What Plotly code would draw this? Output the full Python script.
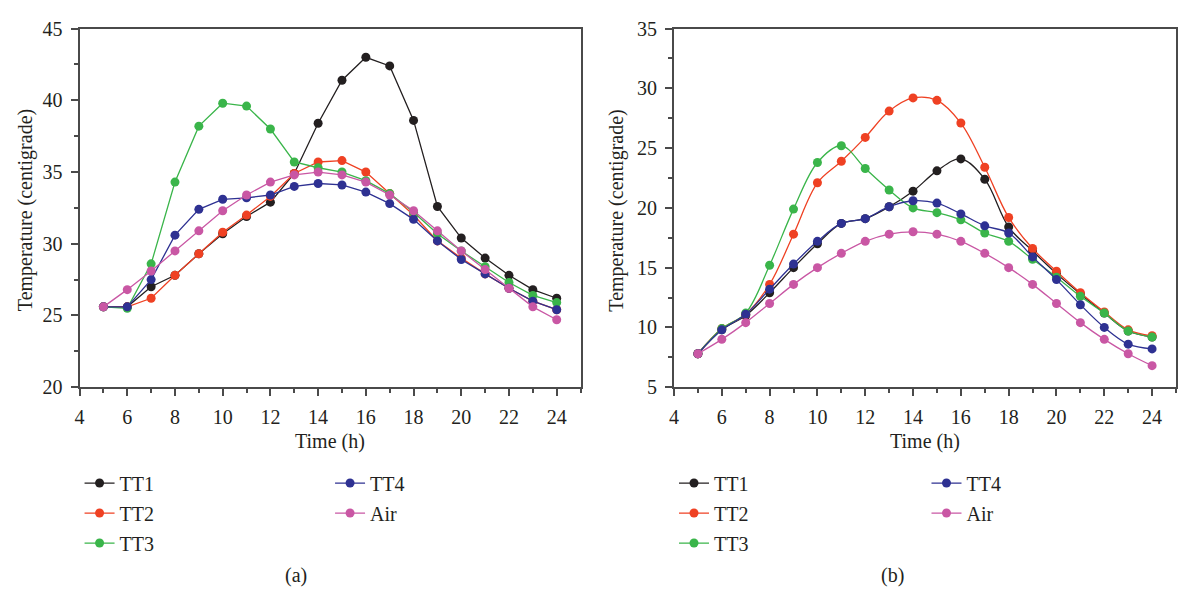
import plotly.graph_objects as go

# ---------------- data ----------------
hours = list(range(5, 25))
series_names = ["TT1", "TT2", "TT3", "TT4", "Air"]

# panel (a)
tt1_a = [25.6, 25.6, 27.0, 27.8, 29.3, 30.7, 31.9, 32.9, 34.9, 38.4, 41.4, 43.0, 42.4, 38.6, 32.6, 30.4, 29.0, 27.8, 26.8, 26.2]
tt2_a = [25.6, 25.6, 26.2, 27.8, 29.3, 30.8, 32.0, 33.3, 34.9, 35.7, 35.8, 35.0, 33.5, 32.0, 30.2, 29.0, 27.9, 26.9, 26.0, 25.4]
tt3_a = [25.6, 25.5, 28.6, 34.3, 38.2, 39.8, 39.6, 38.0, 35.7, 35.3, 35.0, 34.4, 33.5, 32.2, 30.7, 29.5, 28.4, 27.3, 26.4, 25.9]
tt4_a = [25.6, 25.6, 27.5, 30.6, 32.4, 33.1, 33.2, 33.4, 34.0, 34.2, 34.1, 33.6, 32.8, 31.7, 30.2, 28.9, 27.9, 26.9, 26.0, 25.4]
air_a = [25.6, 26.8, 28.1, 29.5, 30.9, 32.3, 33.4, 34.3, 34.8, 35.0, 34.8, 34.3, 33.4, 32.3, 30.9, 29.5, 28.2, 26.9, 25.6, 24.7]

# panel (b)
tt1_b = [7.8, 9.8, 11.0, 12.9, 15.0, 17.0, 18.7, 19.1, 20.1, 21.4, 23.1, 24.1, 22.4, 18.4, 16.4, 14.5, 12.8, 11.2, 9.7, 9.2]
tt2_b = [7.8, 9.9, 11.1, 13.6, 17.8, 22.1, 23.9, 25.9, 28.1, 29.2, 29.0, 27.1, 23.4, 19.2, 16.6, 14.7, 12.9, 11.3, 9.8, 9.3]
tt3_b = [7.8, 9.9, 11.2, 15.2, 19.9, 23.8, 25.2, 23.3, 21.5, 20.0, 19.6, 19.0, 17.9, 17.2, 15.7, 14.2, 12.6, 11.2, 9.7, 9.2]
tt4_b = [7.8, 9.8, 11.1, 13.2, 15.3, 17.2, 18.7, 19.1, 20.1, 20.6, 20.4, 19.5, 18.5, 17.9, 15.9, 14.0, 11.9, 10.0, 8.6, 8.2]
air_b = [7.8, 9.0, 10.4, 12.0, 13.6, 15.0, 16.2, 17.2, 17.8, 18.0, 17.8, 17.2, 16.2, 15.0, 13.6, 12.0, 10.4, 9.0, 7.8, 6.8]

x_ticks = [4, 6, 8, 10, 12, 14, 16, 18, 20, 22, 24]
y_ticks_a = [20, 25, 30, 35, 40, 45]
y_ticks_b = [5, 10, 15, 20, 25, 30, 35]

colors = ["#231F20", "#EF4123", "#3AB54A", "#2E3192", "#C957A4"]

FONT = "Liberation Serif"
FS = 20
TXT = "#231F20"
AX = "#4A4A4A"
W, H = 1178, 592

fig = go.Figure()

panel_a = [tt1_a, tt2_a, tt3_a, tt4_a, air_a]
panel_b = [tt1_b, tt2_b, tt3_b, tt4_b, air_b]

for i, (name, vals) in enumerate(zip(series_names, panel_a)):
    fig.add_trace(go.Scatter(
        x=hours, y=vals, mode="lines+markers", name=name,
        line=dict(color=colors[i], width=1.3),
        marker=dict(size=9, color=colors[i]),
        xaxis="x", yaxis="y",
        legend="legend" if i < 3 else "legend2",
        legendgroup="a%d" % i,
    ))

for i, (name, vals) in enumerate(zip(series_names, panel_b)):
    fig.add_trace(go.Scatter(
        x=hours, y=vals, mode="lines+markers", name=name,
        line=dict(color=colors[i], width=1.3, shape="spline", smoothing=1.0),
        marker=dict(size=9, color=colors[i]),
        xaxis="x2", yaxis="y2",
        legend="legend3" if i < 3 else "legend4",
        legendgroup="b%d" % i,
    ))

tickfont = dict(family=FONT, size=FS, color=TXT)
common = dict(
    showline=True, linecolor=AX, linewidth=2, mirror=True,
    showgrid=False, zeroline=False,
    ticks="outside", ticklen=7, tickwidth=1.5, tickcolor=AX,
    tickfont=tickfont, ticklabelstandoff=4,
)

ydom = [1 - 390.7 / H, 1 - 18.3 / H]

fig.update_layout(
    width=W, height=H, autosize=False,
    margin=dict(l=0, r=0, t=0, b=0),
    paper_bgcolor="white", plot_bgcolor="white",
    font=dict(family=FONT, color=TXT),
    xaxis=dict(domain=[75 / W, 579 / W], range=[4, 25], tickvals=x_ticks, anchor="y",
               minor=dict(dtick=1, tick0=4, ticks="outside", ticklen=4, tickwidth=1.5, tickcolor=AX),
               **common),
    yaxis=dict(domain=ydom, range=[20, 45], tickvals=y_ticks_a, anchor="x",
               minor=dict(dtick=2.5, tick0=20, ticks="outside", ticklen=4, tickwidth=1.5, tickcolor=AX),
               **common),
    xaxis2=dict(domain=[673 / W, 1.0], range=[4, 25], tickvals=x_ticks, anchor="y2",
                minor=dict(dtick=1, tick0=4, ticks="outside", ticklen=4, tickwidth=1.5, tickcolor=AX),
                **common),
    yaxis2=dict(domain=ydom, range=[5, 35], tickvals=y_ticks_b, anchor="x2",
                minor=dict(dtick=2.5, tick0=5, ticks="outside", ticklen=4, tickwidth=1.5, tickcolor=AX),
                **common),
)

leg_common = dict(xanchor="left", yanchor="top", bgcolor="rgba(0,0,0,0)",
                  font=dict(family=FONT, size=FS, color=TXT), tracegroupgap=1,
                  orientation="v", itemwidth=30)
fig.update_layout(
    legend=dict(x=75 / W, y=1 - 470 / H, **leg_common),
    legend2=dict(x=327 / W, y=1 - 470 / H, **leg_common),
    legend3=dict(x=673 / W, y=1 - 470 / H, **leg_common),
    legend4=dict(x=927 / W, y=1 - 470 / H, **leg_common),
)

ann = []
for cx in (327, 925):
    ann.append(dict(text="Time (h)", x=cx / W, y=1 - 447 / H, xref="paper", yref="paper",
                    xanchor="center", yanchor="middle",
                    showarrow=False, font=dict(family=FONT, size=FS, color=TXT)))
for cx in (20, 615):
    ann.append(dict(text="Temperature (centigrade)", x=cx / W, y=1 - 207 / H, xref="paper", yref="paper",
                    xanchor="center", yanchor="middle",
                    showarrow=False, textangle=-90, font=dict(family=FONT, size=FS, color=TXT)))
for cx, lab in ((293, "(a)"), (893, "(b)")):
    ann.append(dict(text=lab, x=cx / W, y=1 - 586 / H, xref="paper", yref="paper",
                    xanchor="center", yanchor="middle",
                    showarrow=False, font=dict(family=FONT, size=FS, color=TXT)))
fig.update_layout(annotations=ann)

fig.write_html("out.html")
